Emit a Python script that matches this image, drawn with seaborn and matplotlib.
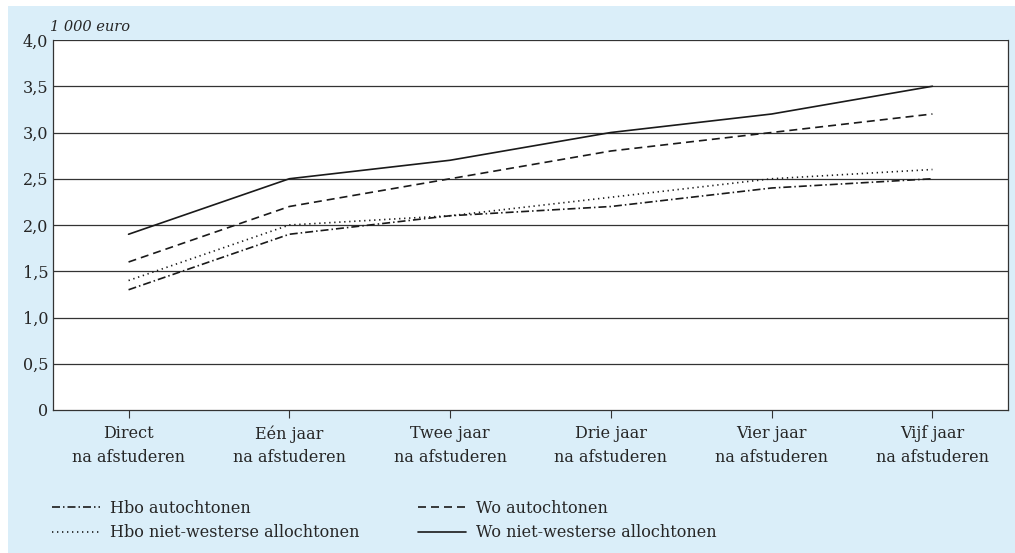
import matplotlib
matplotlib.use("Agg")
import matplotlib.pyplot as plt
import seaborn as sns
import pandas as pd
from matplotlib.patches import Rectangle

categories = ["Direct\nna afstuderen", "Eén jaar\nna afstuderen", "Twee jaar\nna afstuderen",
              "Drie jaar\nna afstuderen", "Vier jaar\nna afstuderen", "Vijf jaar\nna afstuderen"]
series_names = ["Hbo autochtonen", "Hbo niet-westerse allochtonen",
                "Wo autochtonen", "Wo niet-westerse allochtonen"]
hbo_autochtonen = [1.3, 1.9, 2.1, 2.2, 2.4, 2.5]
hbo_nw_allochtonen = [1.4, 2.0, 2.1, 2.3, 2.5, 2.6]
wo_autochtonen = [1.6, 2.2, 2.5, 2.8, 3.0, 3.2]
wo_nw_allochtonen = [1.9, 2.5, 2.7, 3.0, 3.2, 3.5]
y_ticks = [0, 0.5, 1.0, 1.5, 2.0, 2.5, 3.0, 3.5, 4.0]
y_tick_labels = ["0", "0,5", "1,0", "1,5", "2,0", "2,5", "3,0", "3,5", "4,0"]

rows = []
for name, vals in zip(series_names, [hbo_autochtonen, hbo_nw_allochtonen, wo_autochtonen, wo_nw_allochtonen]):
    for i, v in enumerate(vals):
        rows.append({"x": i, "waarde": v, "groep": name})
df = pd.DataFrame(rows)

sns.set_theme(style="white")
plt.rcParams["font.family"] = ["DejaVu Serif"]

FS = 11.5
W, H = 1015, 553
fig = plt.figure(figsize=(W/100, H/100), dpi=100, facecolor="white")
bg = "#daeef9"
fig.patches.append(Rectangle((8/W, 0), 1 - 8/W, 1 - 6/H, transform=fig.transFigure,
                             facecolor=bg, edgecolor="none", zorder=-10))

ax = fig.add_axes([53/W, 1 - 410/H, (1008-53)/W, (410-40)/H])
ax.set_facecolor("white")

dashes = {
    "Hbo autochtonen": (4.8, 1.8, 0.9, 1.8),
    "Hbo niet-westerse allochtonen": (0.8, 2.2),
    "Wo autochtonen": (4.8, 3.0),
    "Wo niet-westerse allochtonen": "",
}
sns.lineplot(data=df, x="x", y="waarde", hue="groep", style="groep",
             hue_order=series_names, style_order=series_names,
             palette=["#1a1a1a"]*4, dashes=dashes, linewidth=1.2, ax=ax, legend=True)

ax.set_xlim(-0.47, 5.47)
ax.set_ylim(0, 4.0)
ax.set_yticks(y_ticks)
ax.set_yticklabels(y_tick_labels, fontsize=FS)
ax.set_xticks(range(len(categories)))
ax.set_xticklabels(categories, fontsize=FS, linespacing=1.5)
ax.tick_params(axis="x", length=6, width=0.8, color="#333333", direction="out", pad=5, bottom=True)
ax.tick_params(axis="y", length=0, pad=3.5)
for yv in y_ticks[1:]:
    ax.axhline(yv, color="#333333", lw=0.9, zorder=0)
for s in ["left", "bottom", "right"]:
    ax.spines[s].set_visible(True)
    ax.spines[s].set_color("#333333")
    ax.spines[s].set_linewidth(0.9)
ax.spines["top"].set_visible(False)
ax.set_xlabel("")
ax.set_ylabel("")

fig.text(50/W, 1 - 27/H, "1 000 euro", fontsize=10.5, style="italic", va="center", ha="left")

handles, labels = ax.get_legend_handles_labels()
ax.get_legend().remove()
common = dict(loc="center left", frameon=False, fontsize=FS, handlelength=3.0,
              handletextpad=0.6, labelspacing=0.5, borderpad=0.0, borderaxespad=0.0)
fig.legend(handles[:2], labels[:2], bbox_to_anchor=(52/W, 1 - 520.5/H), **common)
fig.legend(handles[2:], labels[2:], bbox_to_anchor=(418/W, 1 - 520.5/H), **common)

fig.savefig("out.png", dpi=100, facecolor="white")
